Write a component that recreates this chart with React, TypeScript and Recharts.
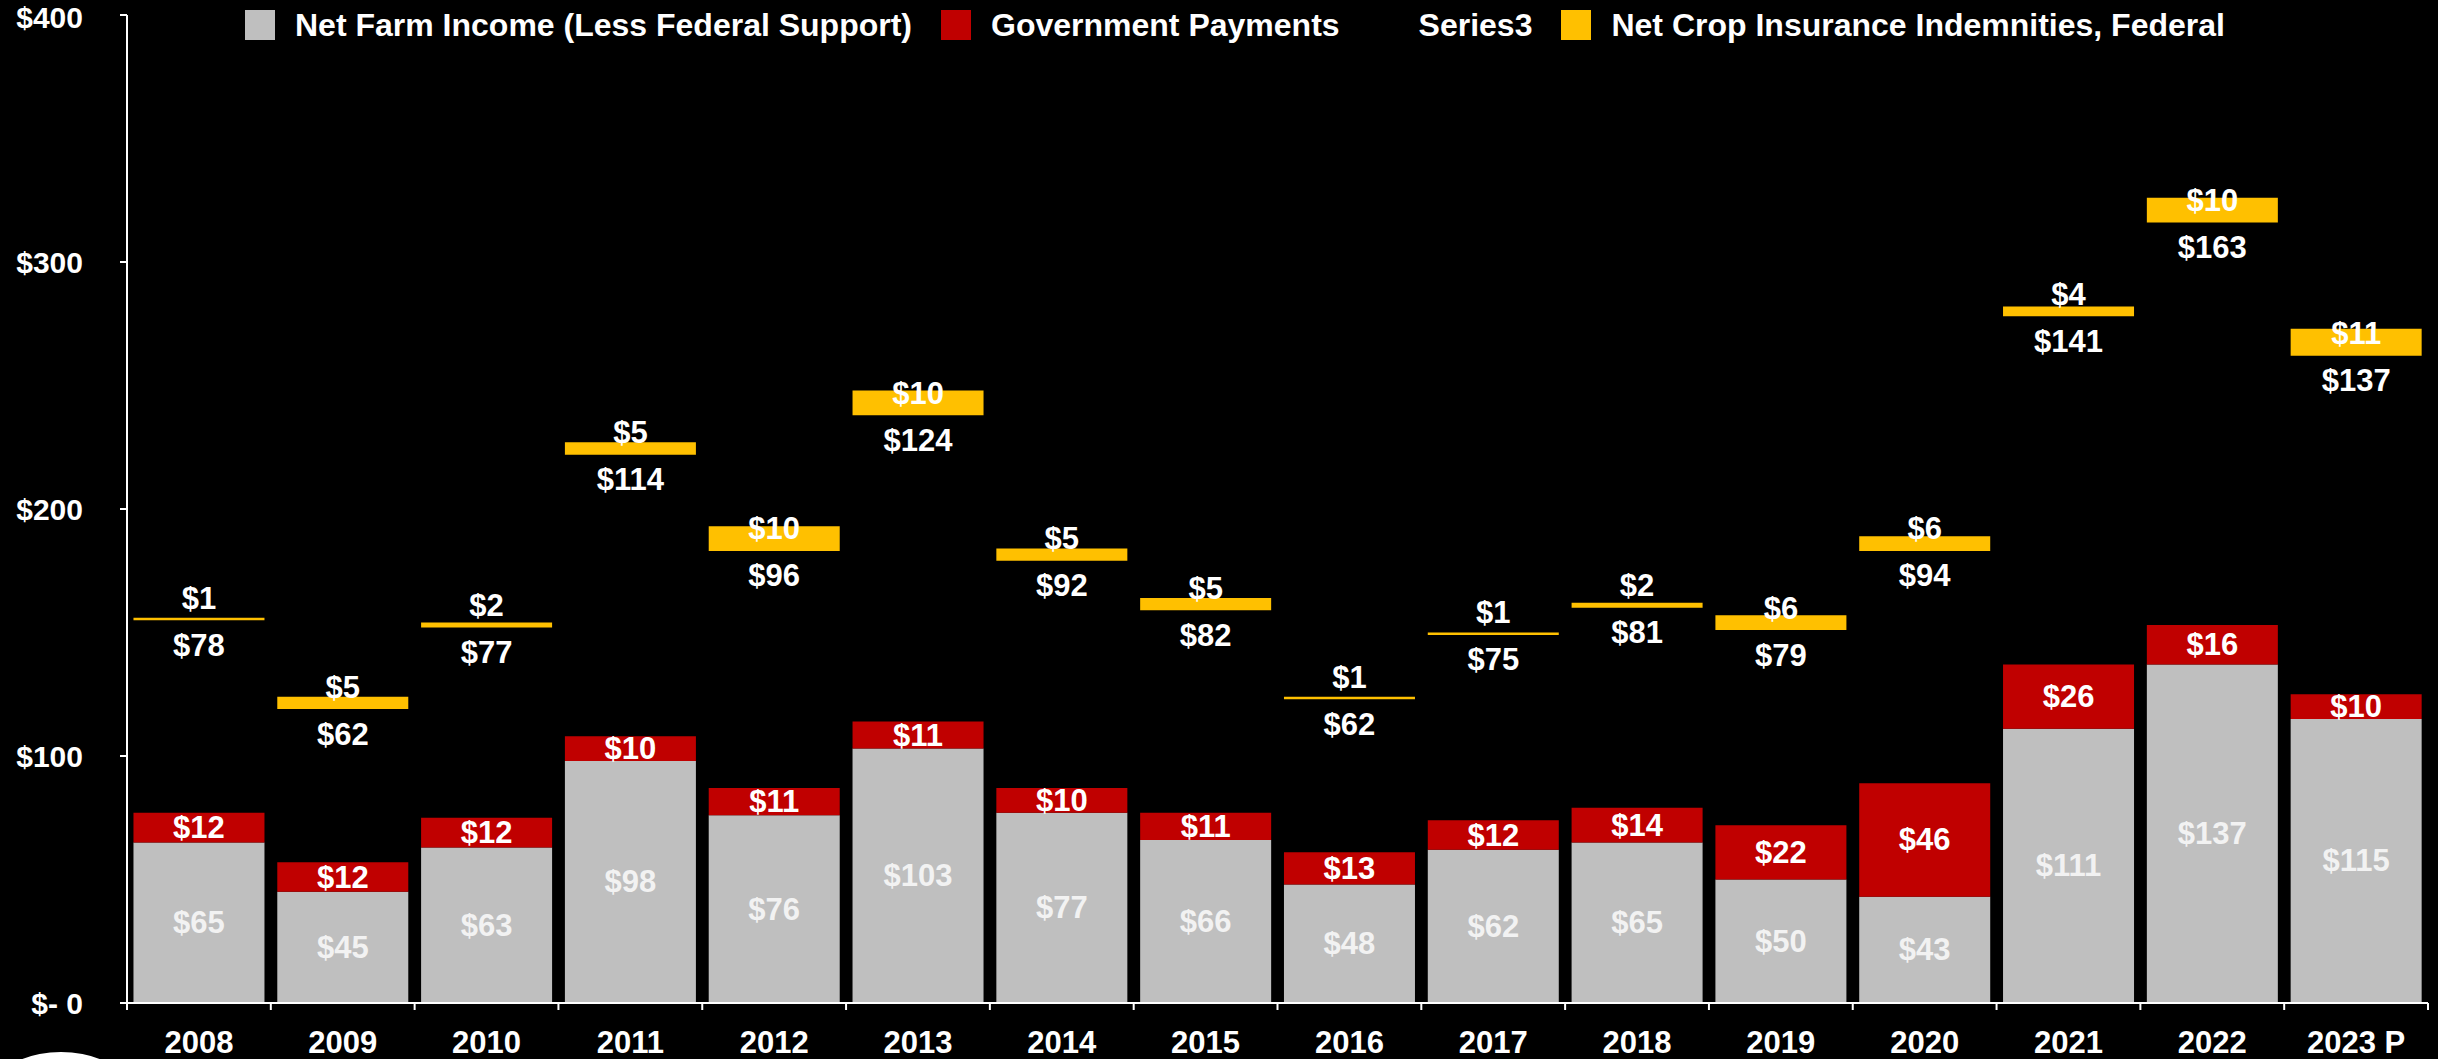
import { Bar, BarChart, LabelList, Legend, XAxis, YAxis } from "recharts"

const years = ["2008", "2009", "2010", "2011", "2012", "2013", "2014", "2015", "2016", "2017", "2018", "2019", "2020", "2021", "2022", "2023 P"]
const netFarmIncome = [65, 45, 63, 98, 76, 103, 77, 66, 48, 62, 65, 50, 43, 111, 137, 115]
const govPayments = [12, 12, 12, 10, 11, 11, 10, 11, 13, 12, 14, 22, 46, 26, 16, 10]
const series3 = [78, 62, 77, 114, 96, 124, 92, 82, 62, 75, 81, 79, 94, 141, 163, 137]
const cropIndemnities = [1, 5, 2, 5, 10, 10, 5, 5, 1, 1, 2, 6, 6, 4, 10, 11]
const yTicks = [0, 100, 200, 300, 400]

const seriesNames = [
  "Net Farm Income (Less Federal Support)",
  "Government Payments",
  "Series3",
  "Net Crop Insurance Indemnities, Federal",
]
const seriesColors = ["#BFBFBF", "#C00000", "transparent", "#FFC000"]

const W = 2438
const H = 1059
const Y_AXIS_W = 127
const RIGHT = 10
const FONT = "'Liberation Sans', Arial, sans-serif"

const chartData = years.map((year, i) => ({
  year,
  farm: netFarmIncome[i],
  gov: govPayments[i],
  s3: series3[i],
  crop: cropIndemnities[i],
}))

const bandWidth = (W - Y_AXIS_W - RIGHT) / years.length

type LabelProps = { x?: number; y?: number; width?: number; height?: number; value?: number | string }

function labelText(x: number, y: number, value: number | string | undefined, fill = "#FFFFFF") {
  return (
    <text
      x={x}
      y={y}
      fill={fill}
      textAnchor="middle"
      dominantBaseline="central"
      fontFamily={FONT}
      fontWeight={700}
      fontSize={31}
    >
      ${value}
    </text>
  )
}

const centerLabel = (fill: string) => (p: LabelProps) => {
  const x = Number(p.x) + Number(p.width) / 2
  const y = Number(p.y) + Number(p.height) / 2
  return labelText(x, y, p.value, fill)
}

// spacer series: label sits just under the yellow bar
const spacerLabel = (p: LabelProps) => labelText(Number(p.x) + Number(p.width) / 2, Number(p.y) + 25, p.value)

// yellow series: label anchored on the bottom of the bar
const cropLabel = (p: LabelProps) =>
  labelText(Number(p.x) + Number(p.width) / 2, Number(p.y) + Number(p.height) - 22, p.value)

function YearTick(props: { x?: number; y?: number; index?: number; payload?: { value: string } }) {
  const x = Number(props.x)
  const y = Number(props.y)
  const half = bandWidth / 2
  return (
    <g>
      <line x1={x - half} x2={x - half} y1={y} y2={y + 7} stroke="#FFFFFF" strokeWidth={2} />
      {props.index === years.length - 1 && (
        <line x1={x + half} x2={x + half} y1={y} y2={y + 7} stroke="#FFFFFF" strokeWidth={2} />
      )}
      <text
        x={x}
        y={y + 39}
        textAnchor="middle"
        dominantBaseline="central"
        fill="#FFFFFF"
        fontFamily={FONT}
        fontWeight={700}
        fontSize={31}
      >
        {props.payload?.value}
      </text>
    </g>
  )
}

function DollarTick(props: { x?: number; y?: number; payload?: { value: number } }) {
  const v = Number(props.payload?.value)
  return (
    <text
      x={Number(props.x)}
      y={Number(props.y) + (v === 400 ? 2 : 0)}
      textAnchor="end"
      dominantBaseline="central"
      fill="#FFFFFF"
      fontFamily={FONT}
      fontWeight={700}
      fontSize={30}
    >
      {v === 0 ? "$- 0" : `$${v}`}
    </text>
  )
}

function LegendContent() {
  return (
    <div style={{ display: "flex", alignItems: "center", fontFamily: FONT, fontWeight: 700, fontSize: 32, color: "#FFFFFF", whiteSpace: "nowrap" }}>
      {seriesNames.map((name, i) => (
        <div key={name} style={{ display: "flex", alignItems: "center", marginRight: 29 }}>
          <span style={{ width: 30, height: 30, background: seriesColors[i], marginRight: 20, display: "inline-block" }} />
          <span style={{ lineHeight: "30px" }}>{name}</span>
        </div>
      ))}
    </div>
  )
}

export default function App() {
  return (
    <div style={{ position: "relative", width: W, height: H, overflow: "hidden", background: "#000000", fontFamily: FONT }}>
      <style>{"body{margin:0;background:#000;overflow:hidden}"}</style>
      <BarChart
        width={W}
        height={H}
        data={chartData}
        margin={{ top: 15, right: RIGHT, left: 0, bottom: 0 }}
        barCategoryGap="4.5%"
      >
        <XAxis
          dataKey="year"
          height={56}
          interval={0}
          tickLine={false}
          tickSize={0}
          tickMargin={0}
          axisLine={{ stroke: "#FFFFFF", strokeWidth: 2 }}
          tick={<YearTick />}
        />
        <YAxis
          width={Y_AXIS_W}
          domain={[0, 400]}
          ticks={yTicks}
          interval={0}
          tickSize={7}
          tickMargin={37}
          axisLine={{ stroke: "#FFFFFF", strokeWidth: 2 }}
          tickLine={{ stroke: "#FFFFFF", strokeWidth: 2 }}
          tick={<DollarTick />}
        />
        <Legend
          layout="horizontal"
          verticalAlign="middle"
          align="center"
          content={<LegendContent />}
          wrapperStyle={{ top: 10, left: 245, width: "auto" }}
        />
        <Bar dataKey="farm" name={seriesNames[0]} stackId="a" fill={seriesColors[0]} isAnimationActive={false}>
          <LabelList dataKey="farm" content={centerLabel("#F2F2F2")} />
        </Bar>
        <Bar dataKey="gov" name={seriesNames[1]} stackId="a" fill={seriesColors[1]} isAnimationActive={false}>
          <LabelList dataKey="gov" content={centerLabel("#FFFFFF")} />
        </Bar>
        <Bar dataKey="s3" name={seriesNames[2]} stackId="a" fill={seriesColors[2]} isAnimationActive={false}>
          <LabelList dataKey="s3" content={spacerLabel} />
        </Bar>
        <Bar dataKey="crop" name={seriesNames[3]} stackId="a" fill={seriesColors[3]} isAnimationActive={false}>
          <LabelList dataKey="crop" content={cropLabel} />
        </Bar>
      </BarChart>
      <div
        style={{
          position: "absolute",
          left: -49,
          top: 1052,
          width: 220,
          height: 220,
          borderRadius: "50%",
          background: "#FFFFFF",
        }}
      />
    </div>
  )
}
